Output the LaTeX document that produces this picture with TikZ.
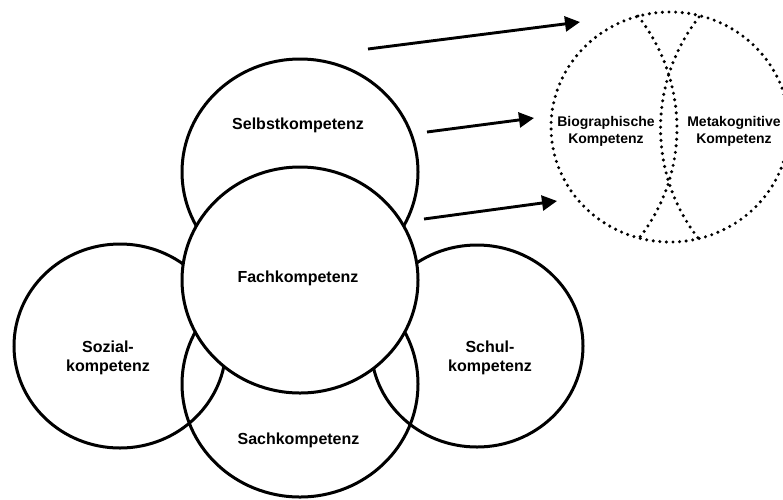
\documentclass[tikz,border=0pt]{standalone}
\usepackage{fontspec}
\setmainfont{Liberation Sans}
\usetikzlibrary{shapes.geometric,arrows.meta}
\begin{document}
\begin{tikzpicture}[x=1pt,y=-1pt,
  ring/.style={ellipse, draw=black, line width=3pt, inner sep=0pt, outer sep=0pt},
  lbl/.style={font=\bfseries\fontsize{16}{19}\selectfont, align=center, inner sep=0pt},
  smalllbl/.style={font=\bfseries\fontsize{14}{17}\selectfont, align=center, inner sep=0pt},
  arr/.style={line width=2.9pt, -{Triangle[length=15pt,width=15pt]}},
  dotline/.style={line width=3.4pt, line cap=round, dash pattern=on 0pt off 6.6pt}]
\useasboundingbox (0,0) rectangle (783,499);
% circles (outlines only)
\node[ring, minimum width=236pt, minimum height=226pt] (selbst) at (300,172) {};
\node[ring, minimum width=212pt, minimum height=204pt] (sozial) at (120,346) {};
\node[ring, minimum width=212pt, minimum height=202pt] (schul) at (477,346) {};
\node[ring, minimum width=236pt, minimum height=226pt] (sach) at (300,384) {};
% Fachkompetenz on top, filled white
\node[ring, fill=white, minimum width=236pt, minimum height=226pt] (fach) at (300,280) {};
% labels
\node[lbl] (tselbst) at (298,125) {Selbstkompetenz};
\node[lbl] (tfach) at (298,278) {Fachkompetenz};
\node[lbl] (tsozial) at (108,357.5) {Sozial-\\kompetenz};
\node[lbl] (tschul) at (490,358) {Schul-\\kompetenz};
\node[lbl] (tsach) at (298.5,440) {Sachkompetenz};
% dotted circle
\node[ellipse, draw=black, dotline, inner sep=0pt, outer sep=0pt,
      minimum width=238pt, minimum height=230pt] (meta) at (670,127) {};
\coordinate (l1) at (638,16);
\coordinate (l2) at (640,237);
\coordinate (r1) at (699,17);
\coordinate (r2) at (698,238);
\draw[dotline] (l1) .. controls (688.8,80.9) and (690.4,171.8) .. (l2);
\draw[dotline] (r1) .. controls (648.2,82) and (647.6,172.8) .. (r2);
\node[smalllbl] (tbio) at (606,131.5) {Biographische\\Kompetenz};
\node[smalllbl] (tmeta) at (734,131.5) {Metakognitive\\Kompetenz};
% arrows
\coordinate (a1s) at (368,49);
\coordinate (a1e) at (580,22);
\coordinate (a2s) at (427,132);
\coordinate (a2e) at (534,118);
\coordinate (a3s) at (424,219);
\coordinate (a3e) at (557,201);
\draw[arr] (a1s) -- (a1e);
\draw[arr] (a2s) -- (a2e);
\draw[arr] (a3s) -- (a3e);
\end{tikzpicture}
\end{document}
